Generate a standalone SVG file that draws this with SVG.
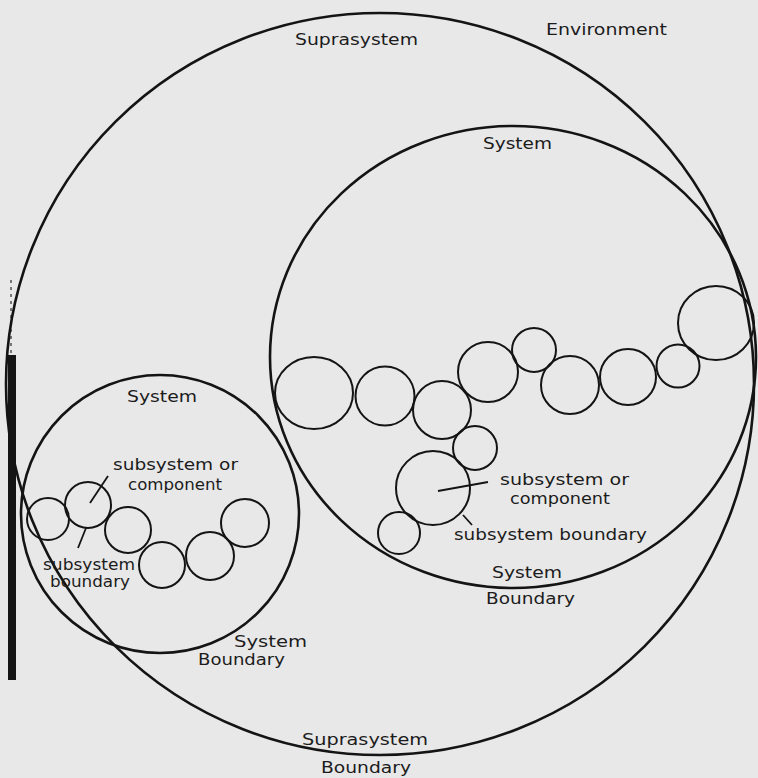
<svg xmlns="http://www.w3.org/2000/svg" width="758" height="778" viewBox="0 0 758 778">
<style>
.b{fill:none;stroke:#141414;stroke-width:2.6}
.s{fill:none;stroke:#141414;stroke-width:2}
.t{font-family:"DejaVu Sans",sans-serif;font-size:15px;fill:#1c1c1c}
.l{stroke:#141414;stroke-width:1.8;fill:none}
</style>
<rect width="758" height="778" fill="#e8e8e8"/>
<g id="page-edge">
<rect x="8" y="355" width="8" height="325" fill="#151515"/>
<line x1="11" y1="280" x2="11" y2="355" stroke="#777" stroke-width="2" stroke-dasharray="3 4"/>
</g>
<g id="suprasystem">
<ellipse class="b" cx="380" cy="384" rx="374" ry="371"/>
<text class="t" x="295" y="45" textLength="123" lengthAdjust="spacingAndGlyphs">Suprasystem</text>
<text class="t" x="302" y="745" textLength="126" lengthAdjust="spacingAndGlyphs">Suprasystem</text>
<text class="t" x="321" y="773" textLength="90" lengthAdjust="spacingAndGlyphs">Boundary</text>
</g>
<g id="environment">
<text class="t" x="546" y="35" textLength="121" lengthAdjust="spacingAndGlyphs">Environment</text>
</g>
<g id="system-right">
<ellipse class="b" cx="513" cy="357" rx="243" ry="231"/>
<text class="t" x="483" y="149" textLength="69" lengthAdjust="spacingAndGlyphs">System</text>
<text class="t" x="492" y="578" textLength="70" lengthAdjust="spacingAndGlyphs">System</text>
<text class="t" x="486" y="604" textLength="89" lengthAdjust="spacingAndGlyphs">Boundary</text>
</g>
<g id="subsystems-right">
<ellipse class="s" cx="314" cy="393" rx="39" ry="36"/>
<circle class="s" cx="385" cy="396" r="29.5"/>
<circle class="s" cx="442" cy="410" r="29"/>
<circle class="s" cx="488" cy="372" r="30"/>
<circle class="s" cx="534" cy="350" r="22"/>
<circle class="s" cx="570" cy="385" r="29"/>
<circle class="s" cx="628" cy="377" r="28"/>
<circle class="s" cx="678" cy="366" r="21.5"/>
<ellipse class="s" cx="716" cy="323" rx="38" ry="37"/>
<circle class="s" cx="475" cy="448" r="22"/>
<circle class="s" cx="433" cy="488" r="37"/>
<circle class="s" cx="399" cy="533" r="21"/>
<text class="t" x="500" y="485" textLength="129" lengthAdjust="spacingAndGlyphs">subsystem or</text>
<text class="t" x="510" y="504" textLength="100" lengthAdjust="spacingAndGlyphs">component</text>
<text class="t" x="454" y="540" textLength="193" lengthAdjust="spacingAndGlyphs">subsystem boundary</text>
</g>
<g id="system-left">
<circle class="b" cx="160" cy="514" r="139"/>
<text class="t" x="127" y="402" textLength="70" lengthAdjust="spacingAndGlyphs">System</text>
<text class="t" x="234" y="647" textLength="73" lengthAdjust="spacingAndGlyphs">System</text>
<text class="t" x="198" y="665" textLength="87" lengthAdjust="spacingAndGlyphs">Boundary</text>
</g>
<g id="subsystems-left">
<circle class="s" cx="48" cy="519" r="21"/>
<circle class="s" cx="88" cy="505" r="23"/>
<circle class="s" cx="128" cy="530" r="23"/>
<circle class="s" cx="162" cy="565" r="23"/>
<circle class="s" cx="210" cy="556" r="24"/>
<circle class="s" cx="245" cy="523" r="24"/>
<text class="t" x="113" y="470" textLength="125" lengthAdjust="spacingAndGlyphs">subsystem or</text>
<text class="t" x="128" y="490" textLength="94" lengthAdjust="spacingAndGlyphs">component</text>
<text class="t" x="43" y="570" textLength="92" lengthAdjust="spacingAndGlyphs">subsystem</text>
<text class="t" x="50" y="587" textLength="80" lengthAdjust="spacingAndGlyphs">boundary</text>
</g>
<g id="connectors">
<line class="l" x1="438" y1="491" x2="488" y2="482"/>
<line class="l" x1="463" y1="515" x2="472" y2="525"/>
<line class="l" x1="90" y1="503" x2="108" y2="476"/>
<line class="l" x1="86" y1="528" x2="78" y2="548"/>
</g>
</svg>
